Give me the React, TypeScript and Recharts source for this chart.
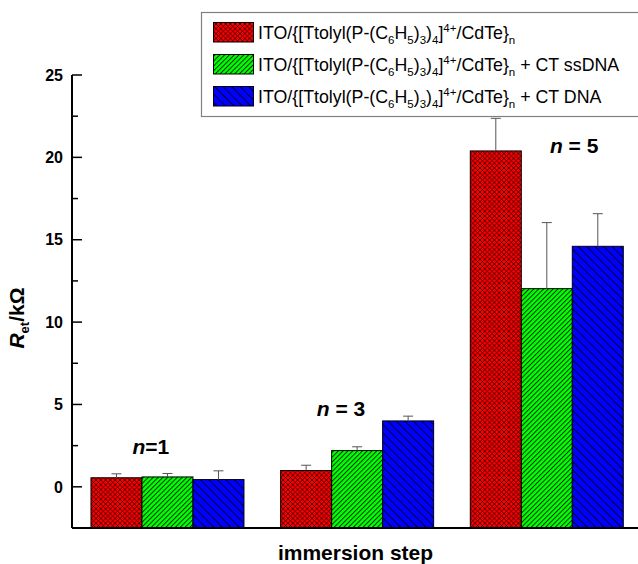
import { Bar, BarChart, ReferenceDot, XAxis, YAxis } from "recharts"

const steps = ["n=1", "n=3", "n=5"]
const redValues = [0.55, 0.99, 20.39]
const redErrors = [0.24, 0.32, 1.98]
const greenValues = [0.6, 2.2, 12.03]
const greenErrors = [0.21, 0.23, 4.01]
const blueValues = [0.44, 4.0, 14.6]
const blueErrors = [0.53, 0.29, 1.98]
const yTicks = [0, 2.5, 5, 7.5, 10, 12.5, 15, 17.5, 20, 22.5, 25]
const annotationTexts = ["=1", " = 3", " = 5"]
const annotationValues = [2.0, 4.32, 20.24]
const legendSuffixes = ["", " + CT ssDNA", " + CT DNA"]

const Y_MIN = -2.5
const Y_MAX = 25
const FONT = "'Liberation Sans', Arial, sans-serif"

const data = steps.map((step, i) => ({
  step,
  red: redValues[i],
  redErr: redErrors[i],
  green: greenValues[i],
  greenErr: greenErrors[i],
  blue: blueValues[i],
  blueErr: blueErrors[i],
}))

// bars start at the bottom of the axis, not at zero
const fromAxis = (key: string) => (d: any) => [Y_MIN, d[key]]

const makeShape = (key: string, errKey: string, pattern: string) => (props: any) => {
  const { x, y, width, height, payload } = props
  const value = payload[key]
  const err = payload[errKey]
  const pxPerUnit = height / (value - Y_MIN)
  const top = y - err * pxPerUnit
  const cx = x + width / 2
  return (
    <g>
      <rect x={x} y={y} width={width} height={height} fill={`url(#${pattern})`} stroke="#000" strokeWidth={1} />
      <line x1={cx} y1={y} x2={cx} y2={top} stroke="#555" strokeWidth={1} />
      <line x1={cx - 5} y1={top} x2={cx + 5} y2={top} stroke="#555" strokeWidth={1} />
    </g>
  )
}

function Patterns() {
  return (
    <defs>
      <pattern id="pRed" patternUnits="userSpaceOnUse" width={4.8} height={4.8}>
        <rect width={4.8} height={4.8} fill="#ff0000" />
        <path d="M0,0 L4.8,4.8 M0,4.8 L4.8,0" stroke="#200" strokeWidth={0.8} />
      </pattern>
      <pattern id="pGreen" patternUnits="userSpaceOnUse" width={3.4} height={3.4} patternTransform="rotate(45)">
        <rect width={3.4} height={3.4} fill="#00ff00" />
        <line x1={0.5} y1={0} x2={0.5} y2={3.4} stroke="#000" strokeWidth={0.8} />
      </pattern>
      <pattern id="pBlue" patternUnits="userSpaceOnUse" width={6} height={6} patternTransform="rotate(-45)">
        <rect width={6} height={6} fill="#0000ff" />
        <line x1={0.5} y1={0} x2={0.5} y2={6} stroke="#000" strokeWidth={0.8} />
      </pattern>
    </defs>
  )
}

function Formula({ x, y, suffix }: { x: number; y: number; suffix: string }) {
  const parts: [string, number, number][] = [
    ["ITO/{[Ttolyl(P-(C", 0, 17.8],
    ["6", 5, 11.5],
    ["H", 0, 17.8],
    ["5", 5, 11.5],
    [")", 0, 17.8],
    ["3", 5, 11.5],
    [")", 0, 17.8],
    ["4", 5, 11.5],
    ["]", 0, 17.8],
    ["4+", -7, 11.5],
    ["/CdTe}", 0, 17.8],
    ["n", 5, 11.5],
    [suffix, 0, 17.8],
  ]
  let cur = 0
  return (
    <text x={x} y={y} fontFamily={FONT} fill="#000">
      {parts.map(([t, off, size], i) => {
        const dy = off - cur
        cur = off
        return (
          <tspan key={i} dy={dy} fontSize={size}>
            {t}
          </tspan>
        )
      })}
    </text>
  )
}

function LegendBox() {
  const fills = ["pRed", "pGreen", "pBlue"]
  return (
    <svg width={638} height={130} style={{ position: "absolute", left: 0, top: 0, pointerEvents: "none" }}>
      <Patterns />
      <rect x={201.5} y={12.5} width={460} height={104} fill="#fff" stroke="#808080" strokeWidth={1.2} />
      {fills.map((f, i) => (
        <g key={f}>
          <rect x={213.5} y={22.5 + i * 32} width={40} height={19.5} fill={`url(#${f})`} stroke="#000" strokeWidth={1} />
          <Formula x={258} y={38.5 + i * 32} suffix={legendSuffixes[i]} />
        </g>
      ))}
    </svg>
  )
}

function YTick(props: any) {
  const { x, y, payload } = props
  const major = payload.value % 5 === 0
  return (
    <g>
      <line x1={x} y1={y} x2={x + (major ? 10 : 6)} y2={y} stroke="#000" strokeWidth={1.5} />
      {major && (
        <text x={x - 9} y={y} dy={5.7} textAnchor="end" fontFamily={FONT} fontWeight="bold" fontSize={16} fill="#000">
          {payload.value}
        </text>
      )}
    </g>
  )
}

function YLabel() {
  return (
    <text
      transform="translate(23.5,318) rotate(-90)"
      textAnchor="middle"
      fontFamily={FONT}
      fontWeight="bold"
      fontSize={21}
      fill="#000"
    >
      <tspan fontStyle="italic">R</tspan>
      <tspan dy={5} fontSize={13}>
        et
      </tspan>
      <tspan dy={-5}>/kΩ</tspan>
    </text>
  )
}

function XLabel() {
  return (
    <text x={355.5} y={559.5} textAnchor="middle" fontFamily={FONT} fontWeight="bold" fontSize={21} fill="#000">
      immersion step
    </text>
  )
}

function StepLabel(props: any) {
  const { viewBox, text, dx } = props
  return (
    <text x={viewBox.x + dx} y={viewBox.y} textAnchor="middle" fontFamily={FONT} fontWeight="bold" fontSize={21} fill="#000">
      <tspan fontStyle="italic">n</tspan>
      {text}
    </text>
  )
}

const labelShift = [-16, -15.5, 28]

export default function App() {
  return (
    <div style={{ position: "fixed", left: 0, top: 0, width: 638, height: 564, overflow: "hidden", background: "#fff" }}>
      <BarChart
        width={650}
        height={564}
        data={data}
        margin={{ top: 75, right: 9, bottom: 0, left: 0 }}
        barCategoryGap="10%"
        barGap={0}
      >
        <XAxis
          dataKey="step"
          height={36}
          tick={false}
          tickLine={false}
          axisLine={{ stroke: "#000", strokeWidth: 2 }}
          label={<XLabel />}
        />
        <YAxis
          width={72}
          type="number"
          domain={[Y_MIN, Y_MAX]}
          ticks={yTicks}
          interval={0}
          tickSize={0}
          tickMargin={0}
          tick={<YTick />}
          axisLine={{ stroke: "#000", strokeWidth: 2 }}
          label={<YLabel />}
        />
        <Bar dataKey={fromAxis("red")} isAnimationActive={false} shape={makeShape("red", "redErr", "pRed")} />
        <Bar dataKey={fromAxis("green")} isAnimationActive={false} shape={makeShape("green", "greenErr", "pGreen")} />
        <Bar dataKey={fromAxis("blue")} isAnimationActive={false} shape={makeShape("blue", "blueErr", "pBlue")} />
        {steps.map((s, i) => (
          <ReferenceDot
            key={s}
            x={s}
            y={annotationValues[i]}
            r={0}
            fill="none"
            stroke="none"
            label={<StepLabel text={annotationTexts[i]} dx={labelShift[i]} />}
          />
        ))}
      </BarChart>
      <LegendBox />
    </div>
  )
}
